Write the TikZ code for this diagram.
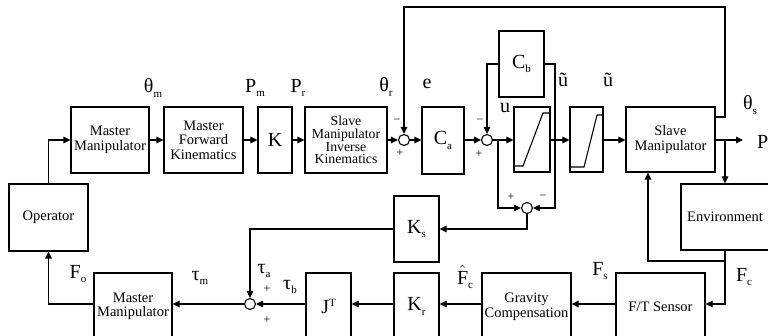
\documentclass[tikz,border=0pt]{standalone}
\usepackage{fontspec}
\setmainfont{Liberation Serif}
\usetikzlibrary{arrows.meta}
\newcommand\lsub[1]{\raisebox{-0.45ex}{\fontsize{11}{12}\selectfont #1}}
\newcommand\lsup[1]{\raisebox{0.85ex}{\fontsize{11}{12}\selectfont #1}}
\begin{document}
\begin{tikzpicture}[x=1pt,y=-1pt,
  box/.style={draw, line width=1.1pt, align=center, inner sep=0pt, font=\fontsize{14.5}{14.5}\selectfont},
  big/.style={font=\fontsize{20}{21}\selectfont},
  sj/.style={draw, circle, minimum size=11pt, inner sep=0pt, line width=1.1pt},
  lab/.style={inner sep=0pt, font=\fontsize{20}{21}\selectfont},
  sgn/.style={inner sep=0pt, font=\fontsize{12}{12}\selectfont},
  wire/.style={line width=1.1pt},
  arr/.style={wire, -{Triangle[length=7pt,width=6.5pt]}},
]
\useasboundingbox (0,0) rectangle (768,336);
% top row
\node[box, minimum width=78pt, minimum height=66pt] (mm1) at (110,140) {Master\\Manipulator};
\node[box, minimum width=79pt, minimum height=66pt] (mfk) at (203.5,140) {Master\\Forward\\Kinematics};
\node[box, big, minimum width=34pt, minimum height=66pt] (K) at (275,140) {K};
\node[box, minimum width=82pt, minimum height=66pt, font=\fontsize{13.8}{12.6}\selectfont] (smik) at (346,140) {Slave\\Manipulator\\Inverse\\Kinematics};
\node[sj] (sum1) at (404,140) {};
\node[box, big, minimum width=42pt, minimum height=67pt] (Ca) at (443,140.5) {C\lsub{a}};
\node[sj] (sum2) at (487,140) {};
\node[box, minimum width=36pt, minimum height=65pt] (sat1) at (532,139.5) {};
\node[box, minimum width=33pt, minimum height=65pt] (sat2) at (586.5,139.5) {};
\node[box, minimum width=89pt, minimum height=65pt] (sm) at (670.5,139.5) {Slave\\Manipulator};
\node[box, big, minimum width=45pt, minimum height=66pt] (Cb) at (521.5,64) {C\lsub{b}};
% middle / bottom
\node[box, minimum width=79pt, minimum height=67pt] (op) at (48.5,217.5) {Operator};
\node[box, minimum width=88pt, minimum height=66pt] (env) at (725,217) {Environment};
\node[box, big, minimum width=45pt, minimum height=66pt] (Ks) at (416.5,229) {K\lsub{s}};
\node[sj] (sum4) at (527,208) {};
\node[sj] (sum3) at (250,304) {};
\node[box, minimum width=89pt, minimum height=67pt] (ft) at (660.5,306.5) {F/T Sensor};
\node[box, minimum width=89pt, minimum height=67pt] (gc) at (526.5,306.5) {Gravity\\Compensation};
\node[box, big, minimum width=45pt, minimum height=67pt] (Kr) at (416.5,306.5) {K\lsub{r}};
\node[box, big, minimum width=45pt, minimum height=67pt] (JT) at (328.5,306.5) {J\lsup{T}};
\node[box, minimum width=78pt, minimum height=67pt] (mm2) at (133,306.5) {Master\\Manipulator};
% saturation curves
\draw[wire] (514,166) -- (523,166) -- (543,113) -- (550,113);
\draw[wire] (570,167) -- (584,167) -- (597,115) -- (603,115);
% coordinates
\coordinate (fbA) at (725,117);
\coordinate (fbB) at (725,7);
\coordinate (pOut) at (743,140);
\coordinate (br1) at (725,140);
\coordinate (cbx) at (555,64);
\coordinate (utap) at (498,140);
\coordinate (evb) at (648,261);
% top row connectors
\draw[arr] (op.north) -- (op.north |- mm1.west) -- (mm1.west);
\draw[arr] (mm1.east) -- (mfk.west);
\draw[arr] (mfk.east) -- (K.west);
\draw[arr] (K.east) -- (smik.west);
\draw[arr] (smik.east) -- (sum1.west);
\draw[arr] (sum1.east) -- (Ca.west |- sum1);
\draw[arr] (Ca.east |- sum1) -- (sum2.west);
\draw[arr] (sum2.east) -- (sat1.west |- sum2);
\draw[arr] (sat1.east |- sum2) -- (sat2.west |- sum2);
\draw[arr] (sat2.east |- sum2) -- (sm.west |- sum2);
\draw[arr] (sm.east |- fbA) -- (fbA) -- (fbB) -- (fbB -| sum1) -- (sum1.north);
\draw[arr] (sm.east |- sum2) -- (pOut);
\draw[arr] (br1) -- (br1 |- env.north);
% C_b loop
\draw[arr] (Cb.east) -- (cbx) -- (cbx |- sum4) -- (sum4.east);
\draw[arr] (Cb.west) -- (Cb.west -| sum2) -- (sum2.north);
\draw[arr] (utap) -- (utap |- sum4) -- (sum4.west);
\draw[arr] (sum4.south) -- (sum4.south |- Ks.east) -- (Ks.east);
\draw[arr] (Ks.west) -- (Ks.west -| sum3) -- (sum3.north);
% environment
\draw[arr] (env.south) -- (env.south |- sum3) -- (ft.east |- sum3);
\draw[arr] (env.south |- evb) -- (evb) -- (evb |- sm.south);
% bottom row
\draw[arr] (ft.west |- sum3) -- (gc.east |- sum3);
\draw[arr] (gc.west |- sum3) -- (Kr.east |- sum3);
\draw[arr] (Kr.west |- sum3) -- (JT.east |- sum3);
\draw[arr] (JT.west |- sum3) -- (sum3.east);
\draw[arr] (sum3.west) -- (mm2.east |- sum3);
\draw[arr] (mm2.west |- sum3) -- (op.south |- sum3) -- (op.south);
% labels
\node[lab] (lthm) at (153,88) {θ\lsub{m}};
\node[lab] (lpm) at (255,88) {P\lsub{m}};
\node[lab] (lpr) at (298,88) {P\lsub{r}};
\node[lab] (lthr) at (386,87) {θ\lsub{r}};
\node[lab] (le) at (427,84) {e};
\node[lab] (lu) at (505,108) {u};
\node[lab] (lut1) at (563,80) {ũ};
\node[lab] (lut2) at (608,80) {ũ};
\node[lab] (lths) at (750,105) {θ\lsub{s}};
\node[lab, anchor=west] (lP) at (757,142) {P};
\node[lab] (lfc) at (744,277) {F\lsub{c}};
\node[lab] (lfs) at (600,271) {F\lsub{s}};
\node[lab] (lfhc) at (465,277) {$\hat{\mbox{F}}$\lsub{c}};
\node[lab] (lfo) at (78,274) {F\lsub{o}};
\node[lab] (ltm) at (200,278) {τ\lsub{m}};
\node[lab] (lta) at (264,271) {τ\lsub{a}};
\node[lab] (ltb) at (290,287) {τ\lsub{b}};
% signs
\node[sgn] (s1m) at (397,121) {−};
\node[sgn] (s1p) at (400,153) {+};
\node[sgn] (s2m) at (480,121) {−};
\node[sgn] (s2p) at (479,154) {+};
\node[sgn] (s4p) at (511,197) {+};
\node[sgn] (s4m) at (543,197) {−};
\node[sgn] (s3a) at (267,289) {+};
\node[sgn] (s3b) at (267,320) {+};
\end{tikzpicture}
\end{document}
